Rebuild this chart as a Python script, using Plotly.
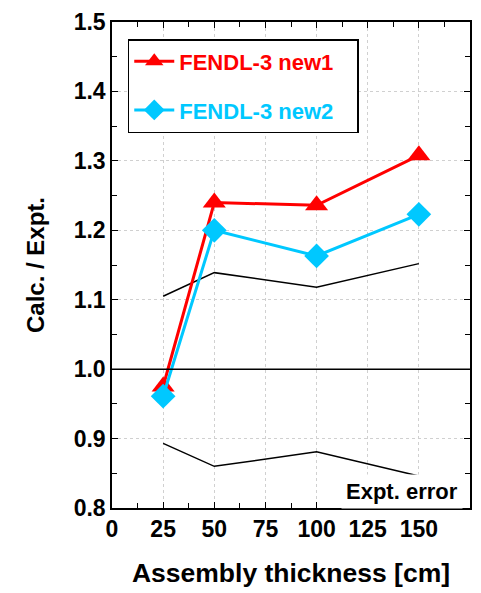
import plotly.graph_objects as go

thickness = [25, 50, 100, 150]
new1 = [0.975, 1.240, 1.236, 1.308]
new2 = [0.961, 1.200, 1.163, 1.223]
err_upper = [1.105, 1.139, 1.118, 1.152]
err_lower = [0.893, 0.860, 0.881, 0.846]
ref_level = 1.0

FONT = "Liberation Sans, Arial, sans-serif"

fig = go.Figure()
fig.add_trace(go.Scatter(x=thickness, y=err_upper, mode="lines",
                         line=dict(color="black", width=1.5), showlegend=False))
fig.add_trace(go.Scatter(x=thickness, y=err_lower, mode="lines",
                         line=dict(color="black", width=1.5), showlegend=False))
fig.add_hline(y=ref_level, line=dict(color="black", width=1.5))
fig.add_trace(go.Scatter(x=thickness, y=new1, mode="lines+markers", name="FENDL-3 new1",
                         legendgroup="a",
                         line=dict(color="#ff0000", width=3),
                         marker=dict(symbol="triangle-up", size=20, color="#ff0000")))
fig.add_trace(go.Scatter(x=thickness, y=new2, mode="lines+markers", name="FENDL-3 new2",
                         legendgroup="b",
                         line=dict(color="#00c8ff", width=3),
                         marker=dict(symbol="diamond", size=19, color="#00c8ff")))

fig.add_annotation(x=142, y=0.824, xref="x", yref="y", text="<b>Expt. error</b>",
                   showarrow=False, bgcolor="white", borderpad=4, xanchor="center",
                   font=dict(family=FONT, size=22, color="black"))

axis_common = dict(
    showline=True, linecolor="black", linewidth=1.5, mirror="ticks",
    ticks="inside", ticklen=6, tickwidth=1, tickcolor="black",
    showgrid=True, gridcolor="#d0d0d0", griddash="dot", gridwidth=1,
    zeroline=False,
    tickfont=dict(family=FONT, size=23, color="black"),
)

fig.update_xaxes(range=[0, 175], tick0=0, dtick=25,
                 minor=dict(ticks="inside", ticklen=5, dtick=12.5, tickcolor="black", showgrid=False),
                 title=dict(text="<b>Assembly thickness [cm]</b>", standoff=22,
                            font=dict(family=FONT, size=26.5, color="black")),
                 tickprefix="<b>", ticksuffix="</b>",
                 **axis_common)
fig.update_yaxes(range=[0.8, 1.5], tick0=0.8, dtick=0.1, tickformat=".1f",
                 minor=dict(ticks="inside", ticklen=5, dtick=0.05, tickcolor="black", showgrid=False),
                 title=dict(text="<b>Calc. / Expt.</b>", standoff=22,
                            font=dict(family=FONT, size=24, color="black")),
                 tickprefix="<b>", ticksuffix="</b>",
                 **axis_common)

fig.update_layout(
    width=481, height=593,
    margin=dict(l=112, r=9, t=19, b=85),
    plot_bgcolor="white", paper_bgcolor="white",
    legend=dict(x=0.044, y=0.965, xanchor="left", yanchor="top",
                bgcolor="white", bordercolor="black", borderwidth=1.5,
                traceorder="grouped", tracegroupgap=17,
                font=dict(family=FONT, size=22),
                itemwidth=40),
    showlegend=True,
)

for tr in fig.data:
    if tr.name == "FENDL-3 new1":
        tr.name = "<b><span style='color:#ff0000'>FENDL-3 new1</span></b>&nbsp;&nbsp;&nbsp;"
    elif tr.name == "FENDL-3 new2":
        tr.name = "<b><span style='color:#00c8ff'>FENDL-3 new2</span></b>&nbsp;&nbsp;&nbsp;"

fig.write_html("out.html")
